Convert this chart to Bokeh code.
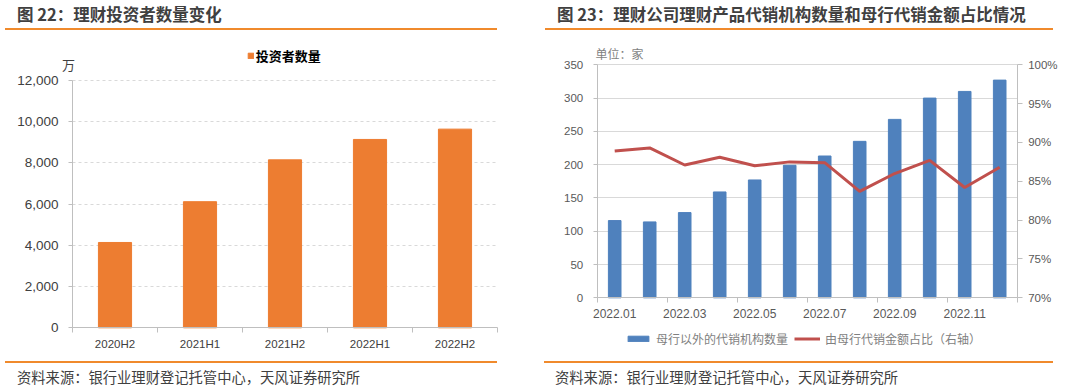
from bokeh.plotting import figure
from bokeh.models import (Range1d, LinearAxis, FixedTicker, NumeralTickFormatter,
                          Legend, LegendItem, Label, Div)
from bokeh.layouts import row, column
from bokeh.embed import file_html
from bokeh.resources import INLINE

# ---------------- data ----------------
periods = ["2020H2", "2021H1", "2021H2", "2022H1", "2022H2"]
investors = [4140, 6120, 8150, 9140, 9640]          # 万

months = ["2022.01", "2022.02", "2022.03", "2022.04", "2022.05", "2022.06",
          "2022.07", "2022.08", "2022.09", "2022.10", "2022.11", "2022.12"]
agencies = [116, 114, 128, 159, 177, 199, 213, 235, 268, 300, 310, 327]   # 家
parent_share = [0.889, 0.893, 0.871, 0.881, 0.870, 0.875, 0.874, 0.837,
                0.860, 0.877, 0.842, 0.868]

left_ticks = [0, 2000, 4000, 6000, 8000, 10000, 12000]
right_ticks = [0, 50, 100, 150, 200, 250, 300, 350]
pct_ticks = [0.70, 0.75, 0.80, 0.85, 0.90, 0.95, 1.00]

# ---------------- styles ----------------
ORANGE = "#ED7D31"
BLUE = "#4F81BD"
RED = "#C0504D"
RULE = "#F08A2C"
GRID = "#D9D9D9"
AX = "#BFBFBF"
CJK = "Noto Sans CJK SC"
LAT = "Liberation Sans"
FW, FH = 540, 328          # each chart canvas (the whole canvas is the frame)


def span_range(v0, px0, v1, px1, lo_px, hi_px):
    """Range whose value v0 lands at pixel px0 and v1 at px1 inside a frame lo_px..hi_px."""
    k = (px1 - px0) / (v1 - v0)
    return Range1d(v0 + (lo_px - px0) / k, v0 + (hi_px - px0) / k)


def title_div(text, pl, rule_ml, rule_w):
    html = (f'<div style="box-sizing:border-box;padding-top:4px;padding-left:{pl}px;height:24px;'
            f"line-height:20px;font-family:'{CJK}';font-weight:bold;font-size:16.5px;"
            f'color:#404040;white-space:nowrap;">{text}</div>'
            f'<div style="margin-top:4px;margin-left:{rule_ml}px;width:{rule_w}px;height:2px;'
            f'background-color:{RULE};"></div>')
    return Div(text=html, width=540, height=30, margin=0)


def source_div(text, pl, rule_ml, rule_w):
    html = (f'<div style="margin-top:3px;margin-left:{rule_ml}px;width:{rule_w}px;height:2px;'
            f'background-color:{RULE};"></div>'
            f'<div style="box-sizing:border-box;padding-top:6px;padding-left:{pl}px;height:22px;'
            f"line-height:16px;font-family:'{CJK}';font-size:14.3px;color:#404040;"
            f'white-space:nowrap;">{text}</div>')
    return Div(text=html, width=540, height=34, margin=0)


def style_axis(ax, size, color, tick_out, standoff):
    ax.axis_line_color = AX
    ax.major_tick_line_color = AX
    ax.major_tick_out = tick_out
    ax.major_tick_in = 0
    ax.minor_tick_out = 0
    ax.minor_tick_in = 0
    ax.major_label_standoff = standoff
    ax.major_label_text_font = LAT
    ax.major_label_text_font_size = size
    ax.major_label_text_color = color


def set_grid(p, ticks, lo, hi, dash):
    p.xgrid.visible = False
    g = p.ygrid[0]
    g.ticker = FixedTicker(ticks=ticks)
    g.grid_line_color = GRID
    if dash:
        g.grid_line_dash = dash
    try:
        g.cross_bounds = (lo, hi)
    except AttributeError:
        g.visible = False
        p.segment(x0=lo, x1=hi, y0=ticks, y1=ticks, line_color=GRID,
                  line_dash=dash or "solid", level="underlay")


def base_fig(xr, yr):
    p = figure(width=FW, height=FH, x_range=xr, y_range=yr,
               min_border=0, output_backend="svg", toolbar_location=None)
    p.title.visible = False
    p.outline_line_color = None
    return p


# ---------------- left chart ----------------
xs1 = list(range(1, len(periods) + 1))
x_lo1, x_hi1 = 0.5, len(periods) + 0.5
p1 = base_fig(span_range(x_lo1, 72, x_hi1, 497, 0, FW),
              span_range(0, 297.3, 12000, 50, FH, 0))
set_grid(p1, left_ticks, x_lo1, x_hi1, "3 3")
bars1 = p1.vbar(x=xs1, top=investors, width=0.39, color=ORANGE)

ya = p1.yaxis[0]
ya.fixed_location = x_lo1
ya.bounds = (0, 12000)
ya.ticker = FixedTicker(ticks=left_ticks)
ya.formatter = NumeralTickFormatter(format="0,0")
style_axis(ya, "13.5px", "#404040", 4, 10)

xa = p1.xaxis[0]
xa.fixed_location = 0
xa.bounds = (x_lo1, x_hi1)
xa.ticker = FixedTicker(ticks=xs1, minor_ticks=[i + 0.5 for i in range(0, len(periods) + 1)])
xa.major_label_overrides = {i + 1: lab for i, lab in enumerate(periods)}
style_axis(xa, "11.5px", "#404040", 0, 5)
xa.minor_tick_out = 5
xa.minor_tick_line_color = AX

leg1 = Legend(items=[LegendItem(label="投资者数量", renderers=[bars1])],
              location=(174.7 + 72, 293), orientation="horizontal",
              glyph_width=7, glyph_height=7, label_height=20, label_standoff=2,
              label_text_font=CJK, label_text_font_size="13px", label_text_font_style="bold",
              label_text_color="#000000", padding=0, margin=0,
              border_line_color=None, background_fill_alpha=0)
p1.add_layout(leg1)
p1.add_layout(Label(x=68, y=294, x_units="screen", y_units="screen", text="万",
                    text_align="center", text_baseline="middle", text_font=CJK,
                    text_font_size="13px", text_color="#404040"))

# ---------------- right chart ----------------
xs2 = list(range(1, len(months) + 1))
x_lo2, x_hi2 = 0.5, len(months) + 0.5
p2 = base_fig(span_range(x_lo2, 56.7, x_hi2, 476.7, 0, FW),
              span_range(0, 267.3, 350, 34.3, FH, 0))
p2.extra_y_ranges = {"pct": span_range(0.70, 267.3, 1.00, 34.3, FH, 0)}
set_grid(p2, right_ticks, x_lo2, x_hi2, None)
bars2 = p2.vbar(x=xs2, top=agencies, width=0.36, color=BLUE)
line2 = p2.line(x=xs2, y=parent_share, y_range_name="pct", line_color=RED, line_width=3)

ya2 = p2.yaxis[0]
ya2.fixed_location = x_lo2
ya2.bounds = (0, 350)
ya2.ticker = FixedTicker(ticks=right_ticks)
style_axis(ya2, "11.5px", "#595959", 4, 10)

ra = LinearAxis(y_range_name="pct", ticker=FixedTicker(ticks=pct_ticks),
                formatter=NumeralTickFormatter(format="0%"),
                fixed_location=x_hi2, bounds=(0.70, 1.00))
style_axis(ra, "11.5px", "#595959", 5, 6)
p2.add_layout(ra, "right")

xa2 = p2.xaxis[0]
xa2.fixed_location = 0
xa2.bounds = (x_lo2, x_hi2)
xa2.ticker = FixedTicker(ticks=xs2[::2], minor_ticks=[i + 0.5 for i in range(0, len(months) + 1, 2)])
xa2.major_label_overrides = {i + 1: lab for i, lab in enumerate(months)}
style_axis(xa2, "12px", "#595959", 0, 6)
xa2.minor_tick_out = 5
xa2.minor_tick_line_color = AX

leg2 = Legend(items=[LegendItem(label="母行以外的代销机构数量", renderers=[bars2]),
                     LegendItem(label="由母行代销金额占比（右轴）", renderers=[line2])],
              location=(85, 10), orientation="horizontal",
              glyph_width=26, glyph_height=7, label_height=20, label_standoff=5, spacing=6,
              label_text_font=CJK, label_text_font_size="12px", label_text_color="#7F7F7F",
              padding=0, margin=0, border_line_color=None, background_fill_alpha=0)
p2.add_layout(leg2)
p2.add_layout(Label(x=55, y=305, x_units="screen", y_units="screen", text="单位：家",
                    text_align="left", text_baseline="middle", text_font=CJK,
                    text_font_size="12px", text_color="#7F7F7F"))

# ---------------- layout ----------------
source = "资料来源：银行业理财登记托管中心，天风证券研究所"
left = column(title_div("图 22：理财投资者数量变化", 17, 5, 492), p1,
              source_div(source, 17, 5, 492), spacing=0)
right = column(title_div("图 23：理财公司理财产品代销机构数量和母行代销金额占比情况", 17, 5, 508), p2,
               source_div(source, 15, 4, 509), spacing=0)
page = row(left, right, spacing=0)

open("out.html", "w").write(file_html(page, INLINE))
